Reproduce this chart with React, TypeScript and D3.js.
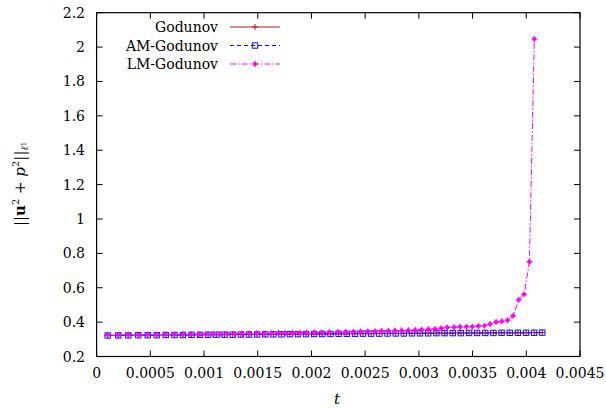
import React from "react";
import * as d3 from "d3";

const godunovT = [0.000103,0.000202,0.000295,0.000388,0.000476,0.00056,0.000643,0.000725,0.000804,0.000884,0.000963,
0.001039,0.001115,0.001191,0.001267,0.001343,0.001418,0.001494,0.00157,0.001646,0.001722,0.001798,0.001874,0.001949,0.002025,0.002101,0.002177,0.002253,0.002329,0.002405,0.00248,0.002556,0.002632,0.002708,0.002784,0.00286,0.002936,0.003011,0.003087,0.003163,0.003239,0.003315,0.003391,0.003467,0.003542,0.003618,0.003694,0.00377,0.003846,0.003922,0.003998,0.004073,0.004149];
const godunovV = [0.323,0.323,0.324,0.324,0.324,0.325,0.325,0.325,0.326,0.326,0.326,
0.327,0.327,0.327,0.328,0.328,0.328,0.329,0.329,0.329,0.33,
0.33,0.33,0.331,0.331,0.331,0.332,0.332,0.332,0.333,0.333,
0.333,0.334,0.334,0.334,0.335,0.335,0.335,0.336,0.336,0.336,
0.336,0.337,0.337,0.337,0.337,0.338,0.338,0.338,0.338,0.338,0.339,0.339];
const amT = godunovT;
const amV = [0.322,0.323,0.323,0.324,0.324,0.324,0.325,0.325,0.325,0.326,0.326,
0.326,0.327,0.327,0.327,0.328,0.328,0.328,0.329,0.329,0.329,
0.33,0.33,0.33,0.331,0.331,0.331,0.332,0.332,0.332,0.333,
0.333,0.333,0.334,0.334,0.334,0.335,0.335,0.335,0.336,0.336,
0.336,0.336,0.337,0.337,0.337,0.337,0.338,0.338,0.338,0.338,0.338,0.339];
const lmT = [0.000103,0.000202,0.000295,0.000388,0.000476,0.00056,0.000643,0.000723,0.000802,0.000877,0.000949,0.001017,
0.001081,0.001149,0.001217,0.001289,0.001357,0.001422,0.001491,0.001559,0.001624,0.001692,0.001757,0.001826,0.001894,0.001956,0.002024,0.002096,
0.002164,0.002245,0.002319,0.00239,0.002455,0.002524,0.002592,0.002655,0.002716,0.002778,0.002841,0.002902,0.002965,0.003027,0.003088,0.003151,0.003207,
0.003265,0.003328,0.003384,0.003442,0.003498,0.003554,0.00361,0.003663,0.003719,0.003772,0.003824,0.003877,0.00393,0.00398,0.004029,0.004075];
const lmV = [0.325,0.325,0.326,0.326,0.327,0.327,0.328,0.328,0.329,0.329,0.33,0.33,
0.331,0.331,0.332,0.332,0.333,0.333,0.334,0.334,0.335,0.336,0.336,0.337,0.338,0.338,0.339,0.34,
0.341,0.342,0.343,0.344,0.345,0.346,0.347,0.348,0.349,0.35,0.351,0.352,0.354,0.356,0.358,0.36,0.364,
0.369,0.37,0.372,0.373,0.373,0.377,0.379,0.389,0.4,0.405,0.411,0.437,0.53,0.562,0.751,2.047];

const xTicks = [0,0.0005,0.001,0.0015,0.002,0.0025,0.003,0.0035,0.004,0.0045];
const xTickLabels = ["0","0.0005","0.001","0.0015","0.002","0.0025","0.003","0.0035","0.004","0.0045"];
const yTicks = [0.2,0.4,0.6,0.8,1,1.2,1.4,1.6,1.8,2,2.2];
const yTickLabels = ["0.2","0.4","0.6","0.8","1","1.2","1.4","1.6","1.8","2","2.2"];
const seriesNames = ["Godunov","AM-Godunov","LM-Godunov"];

const W = 606, H = 409;
const L = 96.6, R = 580, T = 12.7, B = 356.5;
const FONT = "'DejaVu Serif', 'Times New Roman', Times, serif";

export default function App() {
  const x = d3.scaleLinear().domain([0, 0.0045]).range([L, R]);
  const y = d3.scaleLinear().domain([0.2, 2.2]).range([B, T]);
  const mk = (ts: number[], vs: number[]) => ts.map((t, i) => [x(t), y(vs[i])] as [number, number]);
  const line = d3.line();
  const gPts = mk(godunovT, godunovV);
  const aPts = mk(amT, amV);
  const lPts = mk(lmT, lmV);
  const red = "#b01818", blue = "#1010ff", mag = "#ff00ff";
  const plus = (cx: number, cy: number, k: string, c: string) => (
    <path key={k} d={`M${cx-3},${cy}H${cx+3}M${cx},${cy-3}V${cy+3}`} stroke={c} strokeWidth={1} fill="none" />
  );
  const sq = (cx: number, cy: number, k: string) => (
    <rect key={k} x={cx-2.7} y={cy-2.7} width={5.4} height={5.4} fill="none" stroke={blue} strokeWidth={1} />
  );
  const dot = (cx: number, cy: number, k: string) => (
    <g key={k}>
      <circle cx={cx} cy={cy} r={2.1} fill={mag} />
      <path d={`M${cx-3},${cy}H${cx+3}M${cx},${cy-3}V${cy+3}`} stroke={mag} strokeWidth={1.2} />
    </g>
  );
  const legY = [27, 45.5, 64];
  const lx0 = 230, lx1 = 280, lxm = 255;
  const ts = { fontFamily: FONT };
  return (
    <svg width={W} height={H} style={{ position: "absolute", left: 0, top: 0, background: "#fff", fontFamily: FONT }}>
      <rect x={0} y={0} width={W} height={H} fill="#fff" />
      {xTicks.map((t, i) => (
        <g key={"xt" + i}>
          <line x1={x(t)} x2={x(t)} y1={B} y2={B - 6} stroke="#000" />
          <line x1={x(t)} x2={x(t)} y1={T} y2={T + 6} stroke="#000" />
          <text style={ts} x={x(t)} y={378} fontSize={14} textAnchor="middle">{xTickLabels[i]}</text>
        </g>
      ))}
      {yTicks.map((v, i) => (
        <g key={"yt" + i}>
          <line x1={L} x2={L + 6} y1={y(v)} y2={y(v)} stroke="#000" />
          <line x1={R} x2={R - 6} y1={y(v)} y2={y(v)} stroke="#000" />
          <text style={ts} x={85} y={y(v) + 5} fontSize={14} textAnchor="end">{yTickLabels[i]}</text>
        </g>
      ))}
      <path d={line(gPts) || ""} fill="none" stroke={red} strokeWidth={1} />
      {gPts.map((p, i) => plus(p[0], p[1], "g" + i, red))}
      <path d={line(aPts) || ""} fill="none" stroke={blue} strokeWidth={1} strokeDasharray="4,3" />
      {aPts.map((p, i) => sq(p[0], p[1], "a" + i))}
      <path d={line(lPts) || ""} fill="none" stroke={mag} strokeWidth={1} strokeDasharray="6,2,1.5,2" />
      {lPts.map((p, i) => dot(p[0], p[1], "l" + i))}
      <rect x={L} y={T} width={R - L} height={B - T} fill="none" stroke="#000" strokeWidth={1.2} />
      {seriesNames.map((n, i) => (
        <text style={ts} key={"ln" + i} x={218} y={legY[i] + 5} fontSize={14} textAnchor="end">{n}</text>
      ))}
      <line x1={lx0} x2={lx1} y1={legY[0]} y2={legY[0]} stroke={red} />
      {plus(lxm, legY[0], "lg0", red)}
      <line x1={lx0} x2={lx1} y1={legY[1]} y2={legY[1]} stroke={blue} strokeDasharray="4,3" />
      {sq(lxm, legY[1], "lg1")}
      <line x1={lx0} x2={lx1} y1={legY[2]} y2={legY[2]} stroke={mag} strokeDasharray="6,2,1.5,2" />
      {dot(lxm, legY[2], "lg2")}
      <text style={ts} x={337} y={404} fontSize={15} fontStyle="italic" textAnchor="middle">t</text>
      <g transform="translate(25,184) rotate(-90)">
        <text style={ts} x={0} y={0} fontSize={15} textAnchor="middle">
          <tspan>||</tspan>
          <tspan fontWeight="bold">u</tspan>
          <tspan fontSize={10} dy={-6}>2</tspan>
          <tspan dy={6}> + </tspan>
          <tspan fontStyle="italic">p</tspan>
          <tspan fontSize={10} dy={-6}>2</tspan>
          <tspan dy={6}>||</tspan>
          <tspan fontSize={10} dy={3} fontStyle="italic">ℓ</tspan>
          <tspan fontSize={7} dy={-2}>1</tspan>
        </text>
      </g>
    </svg>
  );
}
